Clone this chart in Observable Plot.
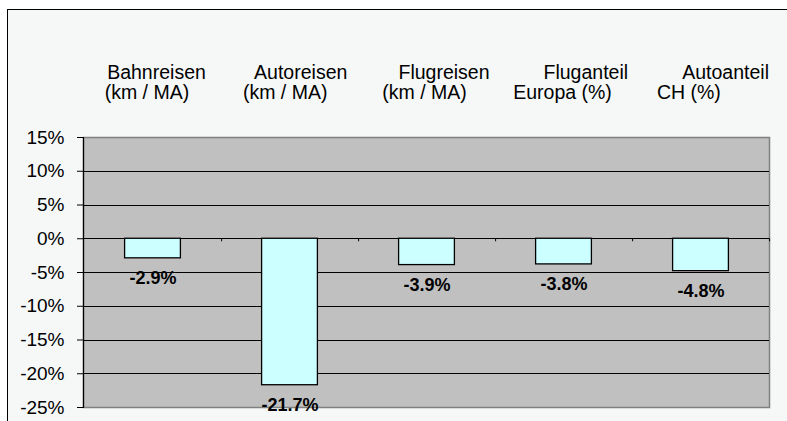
<!DOCTYPE html>
<html><head><meta charset="utf-8">
<script src="https://cdn.jsdelivr.net/npm/d3@7"></script>
<script src="https://cdn.jsdelivr.net/npm/@observablehq/plot@0.6"></script>
<style>
html,body{margin:0;padding:0;background:#fff;}
#wrap{position:relative;width:787px;height:421px;overflow:hidden;}
#panel{position:absolute;left:7px;top:9px;width:790px;height:420px;background:#F6F8F7;border-top:1px solid #000;border-left:1px solid #000;}
#chart{position:absolute;left:0;top:0;}
</style></head><body>
<div id="wrap"><div id="panel"></div><div id="chart"></div></div>
<script>
const categories = ["Bahnreisen", "Autoreisen", "Flugreisen", "Fluganteil Europa", "Autoanteil CH"];
const labelLine1 = ["Bahnreisen", "Autoreisen", "Flugreisen", "Fluganteil", "Autoanteil"];
const labelLine2 = ["(km / MA)", "(km / MA)", "(km / MA)", "Europa (%)", "CH (%)"];
const changes = [-0.029, -0.217, -0.039, -0.038, -0.048];
const valueLabels = ["-2.9%", "-21.7%", "-3.9%", "-3.8%", "-4.8%"];
const yTicks = [0.15, 0.10, 0.05, 0, -0.05, -0.10, -0.15, -0.20, -0.25];
const gridTicks = [0.10, 0.05, 0, -0.05, -0.10, -0.15, -0.20];

const data = categories.map((c, i) => ({cat: c, value: changes[i], label: valueLabels[i]}));

// layout nudges for the header labels (pixels)
const line1Dx = [3.5, 10.7, 17, 21.8, 24.6];
const line2Dx = [-6.1, -4.8, -2.5, -1.5, -12.1];

const font = "Arial, 'Liberation Sans', sans-serif";

const headerMarks = [];
categories.forEach((c, i) => {
  headerMarks.push(Plot.text([c], {x: d => d, frameAnchor: "top", text: () => labelLine1[i],
    lineAnchor: "bottom", dy: -58.5, dx: line1Dx[i], fontSize: 19.5, fill: "#000"}));
  headerMarks.push(Plot.text([c], {x: d => d, frameAnchor: "top", text: () => labelLine2[i],
    lineAnchor: "bottom", dy: -38.3, dx: line2Dx[i], fontSize: 19.5, fill: "#000"}));
});

const chart = Plot.plot({
  width: 787, height: 421,
  marginLeft: 83, marginRight: 18, marginTop: 137, marginBottom: 14,
  style: {background: "transparent", fontFamily: font, color: "#000", fontSize: "19px", overflow: "visible"},
  x: {domain: categories, padding: 0, axis: null},
  y: {domain: [-0.25, 0.15], axis: null},
  marks: [
    Plot.frame({fill: "#C0C0C0", stroke: "#808080", strokeWidth: 1.5}),
    Plot.ruleY(gridTicks, {stroke: "#000", strokeWidth: 1, shapeRendering: "crispEdges"}),
    Plot.barY(data, {x: "cat", y: "value", fill: "#CCFFFF", stroke: "#000", strokeWidth: 1.3,
      insetLeft: 40.6, insetRight: 40.6}),
    Plot.ruleX(categories, {x: d => d, y1: 0, y2: -0.0045, dx: 68.6, stroke: "#000"}),
    Plot.frame({anchor: "left", stroke: "#000", strokeWidth: 1.2}),
    Plot.axisY({ticks: yTicks, tickFormat: d => Math.round(d * 100) + "%", tickSize: 6,
      tickPadding: 13, fontSize: 19, stroke: "#000", fill: "#000", label: null}),
    Plot.text(data, {x: "cat", y: "value", text: "label", lineAnchor: "bottom", dy: 26,
      fontWeight: "bold", fontSize: 18, fill: "#000"}),
    ...headerMarks
  ]
});
document.getElementById("chart").appendChild(chart);
</script>
</body></html>
